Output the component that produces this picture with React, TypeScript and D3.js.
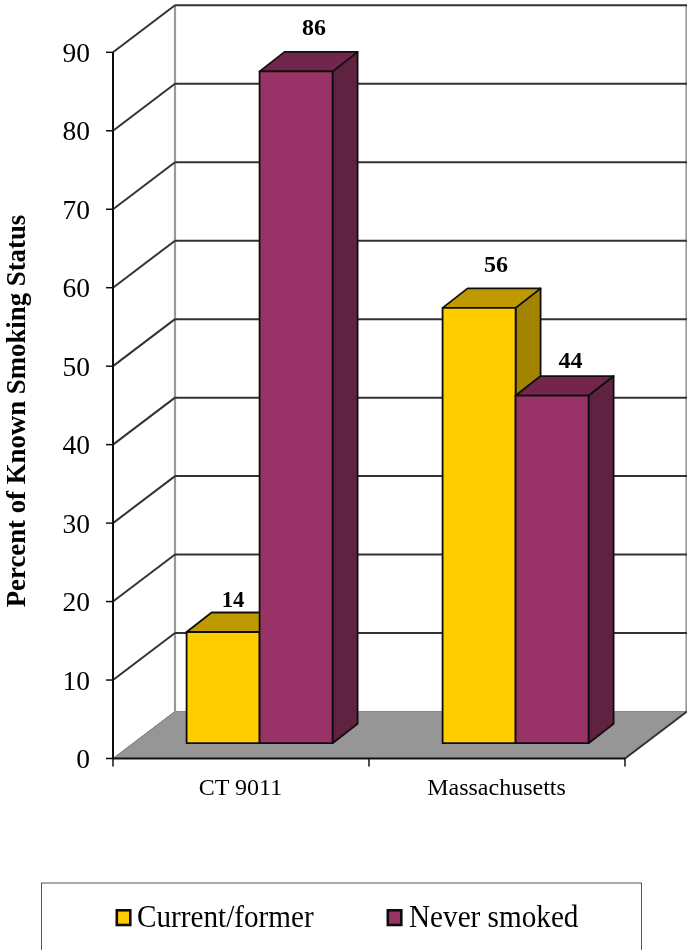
import React from "react";
import * as d3 from "d3";

const categories = ["CT 9011", "Massachusetts"];
const seriesNames = ["Current/former", "Never smoked"];
const currentFormer = [14.2, 55.6];
const neverSmoked = [85.8, 44.4];
const yTicks = [0, 10, 20, 30, 40, 50, 60, 70, 80, 90];
const faceColors = ["#FFCC00", "#993366"];
const topColors = ["#BF9900", "#73264D"];
const sideColors = ["#A38300", "#5F203F"];

const WIDTH = 687;
const HEIGHT = 950;
const DEPTH = { x: 62, y: -47 };
const BAR_OFFSET_X = 18.6;
const BAR_DEPTH = { x: 25, y: -19.5 };
const serif = "'Liberation Serif', 'Times New Roman', serif";

const yScale = d3.scaleLinear().domain([0, 90]).range([758.5, 52.3]);
const yBar = d3.scaleLinear().domain([0, 90]).range([743.2, 38.5]);
const xCat = d3.scaleBand<string>().domain(categories).range([113, 625]);
const xSeries = d3.scaleBand<string>().domain(seriesNames).range([-73, 73]);

// label placement relative to the top-centre of each bar's front face
const labelShift: Record<string, [number, number]> = {
  "CT 9011-0": [10, -25],
  "CT 9011-1": [18, -36.5],
  "Massachusetts-0": [17, -36],
  "Massachusetts-1": [18.5, -28],
};
const legendSwatchX = [115.5, 386.5];
const legendTextX = [137, 409];

const poly = (pts: number[][]) => d3.line()(pts as [number, number][]) + "Z";

export default function App() {
  const base = yScale(0);
  const x0 = 113;
  const x1 = 625;
  const floor = [
    [x0, base],
    [x1, base],
    [x1 + DEPTH.x, base + DEPTH.y],
    [x0 + DEPTH.x, base + DEPTH.y],
  ];
  const bars = categories.flatMap((c, ci) =>
    [currentFormer, neverSmoked].map((vals, si) => ({
      key: `${c}-${si}`,
      si,
      value: vals[ci],
      x: (xCat(c) as number) + xCat.bandwidth() / 2 + BAR_OFFSET_X + (xSeries(seriesNames[si]) as number),
      w: xSeries.bandwidth(),
    }))
  );
  return (
    <svg
      width={WIDTH}
      height={HEIGHT}
      style={{ position: "absolute", left: 0, top: 0, background: "#fff" }}
    >
      <defs>
        <filter id="soft" x="-5%" y="-5%" width="110%" height="110%">
          <feGaussianBlur stdDeviation="0.55" />
        </filter>
      </defs>
      <g filter="url(#soft)">
        {/* floor */}
        <path d={poly(floor)} fill="#969696" stroke="#8a8a8a" strokeWidth={1} />
        {/* back wall verticals */}
        <line x1={x0 + DEPTH.x} x2={x0 + DEPTH.x} y1={yScale(90) + DEPTH.y} y2={base + DEPTH.y} stroke="#999" strokeWidth={2.2} />
        <line x1={x1 + DEPTH.x - 0.5} x2={x1 + DEPTH.x - 0.5} y1={yScale(90) + DEPTH.y} y2={base + DEPTH.y} stroke="#999" strokeWidth={2.2} />
        {/* gridlines */}
        {yTicks.map((t) => {
          const y = yScale(t);
          return (
            <g key={t} fill="none" strokeWidth={2}>
              {t > 0 && <line x1={x0} y1={y} x2={x0 + DEPTH.x} y2={y + DEPTH.y} stroke="#333" />}
              {t > 0 && <line x1={x0 + DEPTH.x} y1={y + DEPTH.y} x2={x1 + DEPTH.x} y2={y + DEPTH.y} stroke="#333" />}
              <line x1={x0 - 7} y1={y} x2={x0} y2={y} stroke="#111" strokeWidth={1.5} />
            </g>
          );
        })}
        {/* front floor edges */}
        <line x1={x1} y1={base} x2={x1 + DEPTH.x} y2={base + DEPTH.y} stroke="#333" strokeWidth={2} />
        <line x1={x0} y1={base} x2={x0 + DEPTH.x} y2={base + DEPTH.y} stroke="#808080" strokeWidth={1} />
        {/* axes */}
        <line x1={x0} y1={yScale(90)} x2={x0} y2={base} stroke="#111" strokeWidth={2} />
        <line x1={x0} y1={base} x2={x1} y2={base} stroke="#111" strokeWidth={2} />
        {[x0, (x0 + x1) / 2, x1].map((x) => (
          <line key={x} x1={x} x2={x} y1={base} y2={base + 8} stroke="#111" strokeWidth={1.5} />
        ))}
        {/* bars */}
        {bars.map((b) => {
          const top = yBar(b.value);
          const bottom = yBar(0);
          const d = BAR_DEPTH;
          const stroke = { stroke: "#111", strokeWidth: 1.8, strokeLinejoin: "round" as const };
          return (
            <g key={b.key}>
              <path
                d={poly([
                  [b.x + b.w, top],
                  [b.x + b.w + d.x, top + d.y],
                  [b.x + b.w + d.x, bottom + d.y],
                  [b.x + b.w, bottom],
                ])}
                fill={sideColors[b.si]}
                {...stroke}
              />
              <path
                d={poly([
                  [b.x, top],
                  [b.x + d.x, top + d.y],
                  [b.x + b.w + d.x, top + d.y],
                  [b.x + b.w, top],
                ])}
                fill={topColors[b.si]}
                {...stroke}
              />
              <rect x={b.x} y={top} width={b.w} height={bottom - top} fill={faceColors[b.si]} {...stroke} />
            </g>
          );
        })}
        {/* value labels */}
        {bars.map((b) => (
          <text
            key={b.key}
            x={b.x + b.w / 2 + labelShift[b.key][0]}
            y={yBar(b.value) + labelShift[b.key][1]}
            textAnchor="middle"
            fontFamily={serif}
            fontWeight="bold"
            fontSize={b.key === "CT 9011-0" ? 22.5 : 24}
            fill="#000"
          >
            {Math.round(b.value)}
          </text>
        ))}
        {/* y tick labels */}
        {yTicks.map((t) => (
          <text key={t} x={90} y={yScale(t) + 9.5} textAnchor="end" fontFamily={serif} fontSize={27.5} fill="#000">
            {t}
          </text>
        ))}
        {/* y title */}
        <text
          transform={`translate(25,411) rotate(-90)`}
          textAnchor="middle"
          fontFamily={serif}
          fontWeight="bold"
          fontSize={26.8}
          fill="#000"
        >
          Percent of Known Smoking Status
        </text>
        {/* category labels */}
        {categories.map((c) => (
          <text
            key={c}
            x={(xCat(c) as number) + xCat.bandwidth() / 2 - 0.5}
            y={795}
            textAnchor="middle"
            fontFamily={serif}
            fontSize={24}
            fill="#000"
          >
            {c}
          </text>
        ))}
        {/* legend */}
        <rect x={41.5} y={883} width={600} height={80} fill="#fff" stroke="#555" strokeWidth={1} />
        {seriesNames.map((s, i) => (
          <g key={s}>
            <rect x={legendSwatchX[i] + 1.3} y={910.3} width={13.5} height={14.7} fill={faceColors[i]} stroke="#111" strokeWidth={2.6} />
            <text
              transform={`translate(${legendTextX[i]},927) scale(0.93,1)`}
              fontFamily={serif}
              fontSize={31.4}
              fill="#000"
            >
              {s}
            </text>
          </g>
        ))}
      </g>
    </svg>
  );
}
